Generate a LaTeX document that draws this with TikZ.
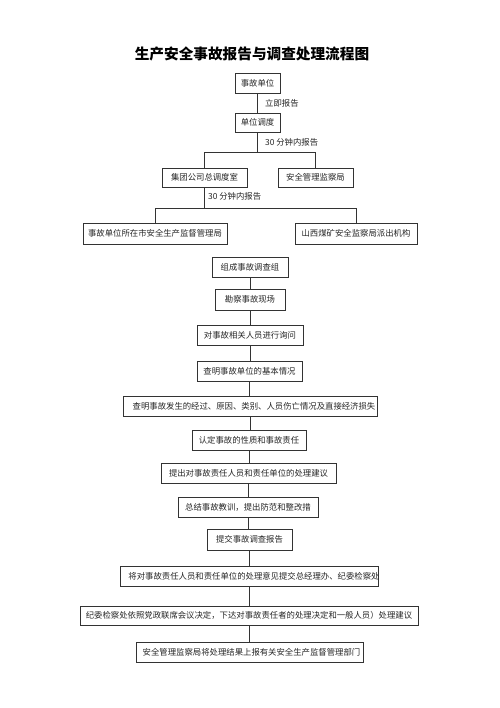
\documentclass[tikz,border=0pt]{standalone}
\usepackage{fontspec}
\newfontfamily\cjk{Noto Sans CJK SC}
\newcommand{\bx}[6]{\node[box,minimum width=#4bp,minimum height=#5bp] (#1) at (#2,#3) {\makebox[0pt]{#6}};}
\begin{document}
\begin{tikzpicture}[x=1bp,y=-1bp,
  box/.style={draw=black!80,line width=0.7bp,rectangle,inner sep=0pt,fill=white,text=black!85},
  conn/.style={draw=black!80,line width=0.7bp},
  lbl/.style={anchor=west,inner sep=0pt,text=black!85},
  every node/.style={font=\cjk\fontsize{8.4}{10}\selectfont}]
\useasboundingbox[fill=white] (0,0) rectangle (500,708);
\node[font=\cjk\bfseries\fontsize{14.7}{17}\selectfont,inner sep=0pt] (title) at (252,54) {生产安全事故报告与调查处理流程图};
\bx{a1}{257.5}{83}{45}{20}{事故单位}
\bx{a2}{257.5}{122.5}{45}{19}{单位调度}
\bx{b1}{204.5}{177.5}{85}{19}{集团公司总调度室}
\bx{b2}{315.5}{177.5}{75}{19}{安全管理监察局}
\bx{c1}{155}{233.5}{144}{21}{事故单位所在市安全生产监督管理局}
\bx{c2}{356}{233.5}{122}{21}{山西煤矿安全监察局派出机构}
\bx{d1}{250}{267}{76}{20}{组成事故调查组}
\bx{d2}{250}{299.5}{70}{21}{勘察事故现场}
\bx{d3}{250}{335}{106}{20}{对事故相关人员进行询问}
\bx{d4}{249.5}{371}{105}{20}{查明事故单位的基本情况}
\bx{d5}{250}{406}{254}{20}{\hspace{8bp}查明事故发生的经过、原因、类别、人员伤亡情况及直接经济损失}
\bx{d6}{249}{440}{114}{20}{认定事故的性质和事故责任}
\bx{d7}{248.5}{473}{175}{20}{提出对事故责任人员和责任单位的处理建议}
\bx{d8}{248}{507}{140}{20}{总结事故教训，提出防范和整改措}
\bx{d9}{249.5}{539.5}{85}{21}{提交事故调查报告}
\bx{d10}{249}{576}{258}{20}{\hspace{10bp}将对事故责任人员和责任单位的处理意见提交总经理办、纪委检察处}
\bx{d11}{249}{615.5}{338}{19}{纪委检察处依照党政联席会议决定，下达对事故责任者的处理决定和一般人员）处理建议}
\bx{d12}{249.5}{652}{227}{20}{\hspace{4bp}安全管理监察局将处理结果上报有关安全生产监督管理部门}
\coordinate (j1) at (257.5,152);
\coordinate (j2) at (204.5,208);
\begin{scope}[on background layer/.try]
\end{scope}
\draw[conn] (a1.south) -- (a2.north);
\draw[conn] (a2.south) -- (j1);
\draw[conn] (b1.north) |- (j1);
\draw[conn] (b2.north) |- (j1);
\draw[conn] (b1.south) -- (j2);
\draw[conn] (c1.north) |- (j2);
\draw[conn] (c2.north) |- (j2);
\foreach \p/\q in {d1/d2,d2/d3,d3/d4,d4/d5,d5/d6,d6/d7,d7/d8,d8/d9,d9/d10,d10/d11,d11/d12}
  \draw[conn] (\p.south) -- (\p.south |- \q.north);
\node[lbl] (l1) at (265,103) {立即报告};
\node[lbl] (l2) at (265,142) {30 分钟内报告};
\node[lbl] (l3) at (208,196) {30 分钟内报告};
\end{tikzpicture}
\end{document}
